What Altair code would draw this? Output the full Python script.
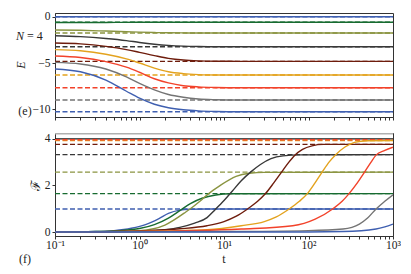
import altair as alt
import pandas as pd

SERIES = ["s1", "s2", "s3", "s4", "s5", "s6", "s7", "s8", "s9"]
COLORS = ["#3f5fb0", "#176b30", "#8a9440", "#383838", "#6e1c0c",
          "#e3a21e", "#f2422a", "#747474", "#3f5fb0"]

# ---------------- panel (e): energies ----------------
E_LEVELS = [0.0, -0.6, -1.76, -3.24, -4.82, -6.3, -7.67, -9.0, -10.26]
T_E = [0.1, 0.2, 0.4, 0.7, 1.0, 1.5, 2.2, 3.3, 5.0, 8.0, 15.0, 1000.0]
E_CURVES = {
    "s1": [0.0, 0.0, 0.0, 0.0, 0.0, 0.0, 0.0, 0.0, 0.0, 0.0, 0.0, 0.0],
    "s2": [-0.63, -0.63, -0.62, -0.61, -0.6, -0.6, -0.6, -0.6, -0.6, -0.6, -0.6, -0.6],
    "s3": [-1.44, -1.47, -1.55, -1.62, -1.67, -1.71, -1.74, -1.75, -1.76, -1.76, -1.76, -1.76],
    "s4": [-2.05, -2.15, -2.35, -2.58, -2.78, -2.97, -3.1, -3.18, -3.22, -3.24, -3.24, -3.24],
    "s5": [-2.84, -2.93, -3.2, -3.55, -3.85, -4.2, -4.5, -4.68, -4.77, -4.81, -4.82, -4.82],
    "s6": [-3.56, -3.68, -4.05, -4.55, -5.0, -5.55, -5.95, -6.15, -6.25, -6.29, -6.3, -6.3],
    "s7": [-4.24, -4.4, -4.85, -5.45, -6.0, -6.7, -7.15, -7.45, -7.58, -7.64, -7.67, -7.67],
    "s8": [-4.93, -5.1, -5.65, -6.5, -7.2, -7.9, -8.4, -8.7, -8.88, -8.96, -9.0, -9.0],
    "s9": [-5.65, -5.95, -6.85, -8.05, -8.8, -9.45, -9.83, -10.05, -10.17, -10.23, -10.26, -10.26],
}

# ---------------- panel (f): F ----------------
F_LEVELS = [0.99, 1.65, 2.57, 3.32, 3.76, 3.93, 3.96]
F_LEVEL_SERIES = ["s1", "s2", "s3", "s4", "s5", "s6", "s7"]
F_TOP_LINES = [4.0, 4.22]
F_TOP_COLORS = ["#1a1a1a", "#b0b0b0"]
F_CURVES = {
    "s1": ([0.1, 0.3, 0.5, 0.8, 1.2, 1.7, 2.2, 3.0, 4.0, 6.0, 1000.0],
           [0.0, 0.02, 0.06, 0.16, 0.33, 0.58, 0.8, 0.94, 0.98, 0.99, 0.99]),
    "s2": ([0.1, 0.3, 0.6, 1.0, 1.5, 2.2, 3.0, 4.0, 5.5, 8.0, 12.0, 1000.0],
           [0.0, 0.02, 0.06, 0.15, 0.32, 0.6, 0.92, 1.22, 1.45, 1.59, 1.64, 1.65]),
    "s3": ([0.1, 0.5, 1.0, 2.0, 3.5, 5.5, 6.6, 8.7, 13.9, 20.0, 30.0, 1000.0],
           [0.0, 0.02, 0.06, 0.3, 0.85, 1.4, 1.65, 1.96, 2.39, 2.52, 2.56, 2.57]),
    "s4": ([0.1, 1.0, 2.0, 3.0, 4.5, 6.3, 7.8, 10.0, 12.5, 16.0, 20.6, 27.0, 36.0, 50.0, 80.0, 1000.0],
           [0.0, 0.03, 0.1, 0.2, 0.38, 0.62, 0.95, 1.35, 1.75, 2.2, 2.57, 2.9, 3.15, 3.27, 3.31, 3.32]),
    "s5": ([0.1, 1.0, 3.0, 6.3, 10.0, 14.0, 19.0, 25.0, 31.0, 39.0, 48.0, 58.0, 69.0, 85.0, 110.0, 150.0, 1000.0],
           [0.0, 0.05, 0.14, 0.27, 0.45, 0.68, 0.99, 1.32, 1.65, 2.12, 2.57, 2.98, 3.3, 3.55, 3.7, 3.76, 3.76]),
    "s6": ([0.1, 1.0, 6.3, 16.0, 30.0, 41.0, 59.0, 78.0, 97.0, 120.0, 145.0, 175.0, 210.0, 270.0, 350.0, 500.0, 1000.0],
           [0.0, 0.03, 0.1, 0.27, 0.45, 0.64, 0.99, 1.32, 1.65, 2.12, 2.57, 3.0, 3.32, 3.65, 3.85, 3.92, 3.93]),
    "s7": ([0.1, 1.0, 16.0, 65.0, 120.0, 193.0, 250.0, 302.0, 380.0, 460.0, 550.0, 630.0, 800.0, 1000.0],
           [0.0, 0.02, 0.13, 0.27, 0.55, 0.99, 1.32, 1.65, 2.12, 2.57, 3.0, 3.3, 3.5, 3.64]),
    "s8": ([0.1, 10.0, 100.0, 256.0, 400.0, 500.0, 630.0, 800.0, 1000.0],
           [0.0, 0.02, 0.06, 0.13, 0.34, 0.6, 0.99, 1.32, 1.6]),
    "s9": ([0.1, 100.0, 256.0, 630.0, 800.0, 1000.0],
           [0.0, 0.0, 0.02, 0.13, 0.22, 0.34]),
}

T_RANGE = [0.1, 1000.0]
X_TICKS = [m * 10.0 ** k for k in range(-1, 3) for m in range(1, 10)] + [1000.0]
X_LABELS = {"0.1": "10⁻¹", "1": "10⁰", "10": "10¹", "100": "10²", "1000": "10³"}

W = 338
H_TOP = 104
H_BOT = 103
SERIF = "Liberation Serif"

label_expr = " : ".join(
    f"abs(datum.value - {k}) < 1e-9 ? '{v}'" for k, v in X_LABELS.items()
) + " : ''"

color_scale = alt.Scale(domain=SERIES, range=COLORS)
x_scale = alt.Scale(type="log", domain=T_RANGE, nice=False)

# ---- data frames ----
e_rows = []
for s in SERIES:
    for t, v in zip(T_E, E_CURVES[s]):
        e_rows.append({"t": t, "v": v, "series": s})
e_df = pd.DataFrame(e_rows)
e_ref = pd.DataFrame([{"t": t, "v": lv, "series": s}
                      for s, lv in zip(SERIES, E_LEVELS) for t in T_RANGE])

f_rows = []
for s in SERIES:
    ts, vs = F_CURVES[s]
    for t, v in zip(ts, vs):
        f_rows.append({"t": t, "v": v, "series": s})
f_df = pd.DataFrame(f_rows)
f_ref = pd.DataFrame([{"t": t, "v": lv, "series": s}
                      for s, lv in zip(F_LEVEL_SERIES, F_LEVELS) for t in T_RANGE])
f_top = pd.DataFrame([{"t": t, "v": lv, "c": c}
                      for lv, c in zip(F_TOP_LINES, F_TOP_COLORS) for t in T_RANGE])

def txt(s, x, y, size=12, style="normal", angle=0, align="center"):
    return alt.Chart(pd.DataFrame({"s": [s]})).mark_text(
        font=SERIF, fontSize=size, fontStyle=style, angle=angle, align=align,
        baseline="middle", color="#222"
    ).encode(x=alt.value(x), y=alt.value(y), text="s:N")

# ---- top panel ----
y_top = alt.Scale(domain=[-10.83, 0.4], nice=False, zero=False)
x_axis_top = alt.Axis(values=X_TICKS, labels=False, title=None, tickSize=3,
                      grid=False)
y_axis_top = alt.Axis(values=[-10, -5, 0], title=None, tickSize=3, grid=False,
                      labelExpr="replace(datum.label, '-', '−')")

top_ref = alt.Chart(e_ref).mark_line(strokeDash=[5, 2.5], strokeWidth=1.4, clip=True).encode(
    x=alt.X("t:Q", scale=x_scale, axis=x_axis_top),
    y=alt.Y("v:Q", scale=y_top, axis=y_axis_top),
    color=alt.Color("series:N", scale=color_scale, legend=None),
    detail="series:N",
)
top_lines = alt.Chart(e_df).mark_line(strokeWidth=1.4, interpolate="monotone", clip=True).encode(
    x=alt.X("t:Q", scale=x_scale),
    y=alt.Y("v:Q", scale=y_top),
    color=alt.Color("series:N", scale=color_scale, legend=None),
    detail="series:N",
)
top = alt.layer(
    top_ref, top_lines,
    txt("N", -39, 23, 12, "italic", align="left"),
    txt("= 4", -28, 23, 12, align="left"),
    txt("E", -34, 52, 12, "italic", angle=270),
    txt("(e)", -30, 98, 12),
).properties(width=W, height=H_TOP)

# ---- bottom panel ----
y_bot = alt.Scale(domain=[-0.17, 4.25], nice=False, zero=False)
x_axis_bot = alt.Axis(values=X_TICKS, labelExpr=label_expr, title=None, tickSize=3,
                      grid=False, labelFlush=False, labelOverlap=False, labelPadding=0)
y_axis_bot = alt.Axis(values=[0, 2, 4], title=None, tickSize=3, grid=False)

bot_top = alt.Chart(f_top).mark_line(strokeWidth=1.4, clip=True).encode(
    x=alt.X("t:Q", scale=x_scale, axis=x_axis_bot),
    y=alt.Y("v:Q", scale=y_bot, axis=y_axis_bot),
    color=alt.Color("c:N", scale=None, legend=None),
    detail="c:N",
)
bot_ref = alt.Chart(f_ref).mark_line(strokeDash=[5, 2.5], strokeWidth=1.4, clip=True).encode(
    x=alt.X("t:Q", scale=x_scale),
    y=alt.Y("v:Q", scale=y_bot),
    color=alt.Color("series:N", scale=color_scale, legend=None),
    detail="series:N",
)
bot_lines = alt.Chart(f_df).mark_line(strokeWidth=1.4, interpolate="monotone", clip=True).encode(
    x=alt.X("t:Q", scale=x_scale),
    y=alt.Y("v:Q", scale=y_bot),
    color=alt.Color("series:N", scale=color_scale, legend=None),
    detail="series:N",
)
bottom = alt.layer(
    bot_top, bot_ref, bot_lines,
    txt("ℱ", -19, 52, 13, angle=270),
    txt("(f)", -30, 126, 12),
    txt("t", 169, 126, 12),
).properties(width=W, height=H_BOT)

chart = alt.vconcat(top, bottom, spacing=11).properties(
    padding={"left": 6, "top": 2, "right": 0, "bottom": 0}
).configure_view(stroke="#333", strokeWidth=1).configure_axis(
    labelFont=SERIF, labelFontSize=11.5, labelColor="#222",
    tickColor="#333", domainColor="#333", domainWidth=1,
)

chart.save("out.html", embed_options={"renderer": "svg", "actions": False})
